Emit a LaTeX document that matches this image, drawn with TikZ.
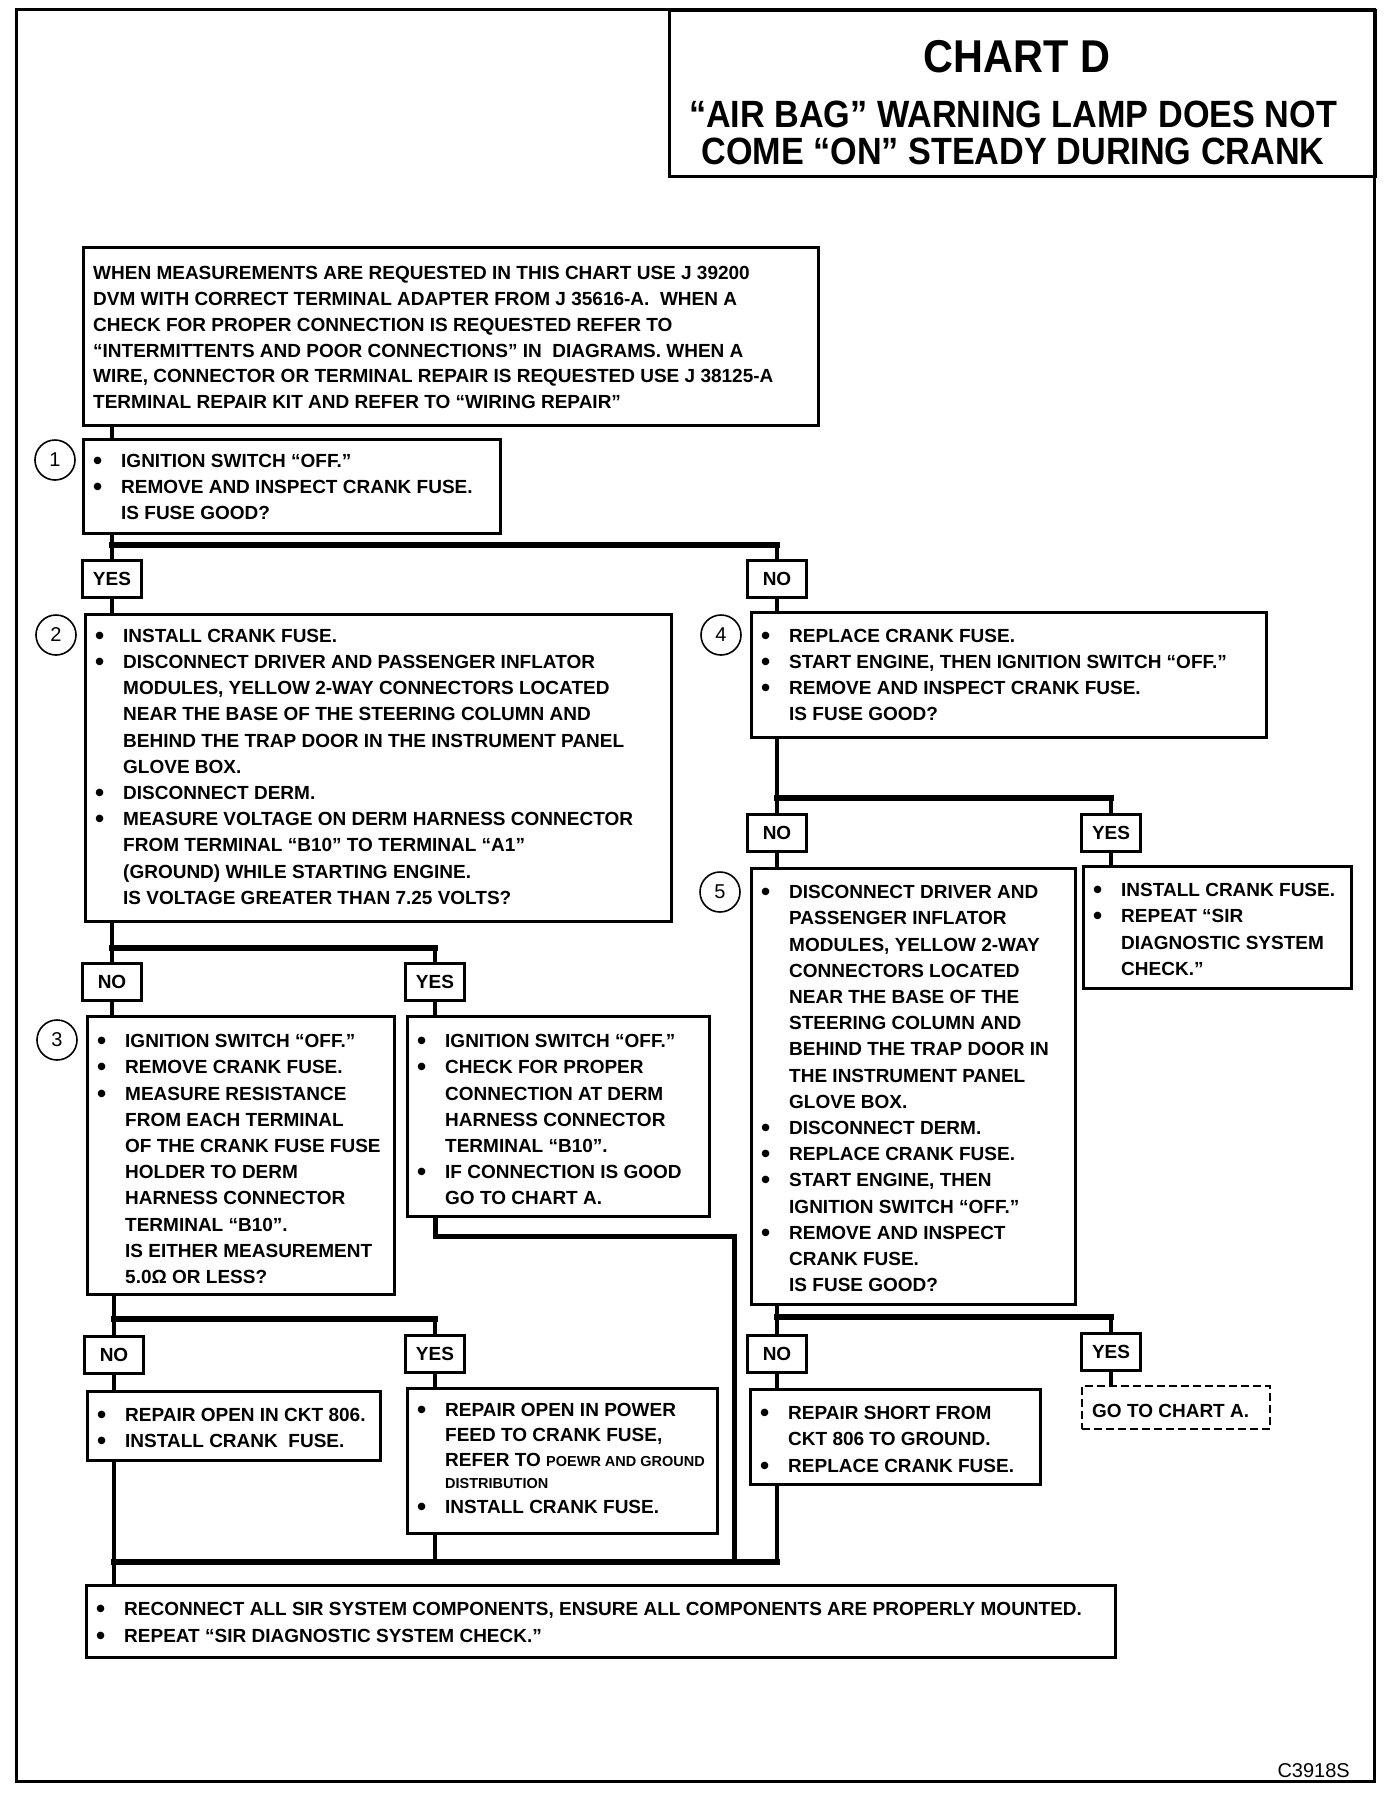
\documentclass[tikz,border=0pt]{standalone}
\usepackage{fontspec}
\newfontfamily\chartfont{Liberation Sans}
\newfontfamily\titlefont{Liberation Sans}[FakeStretch=0.9]
\newcommand{\blt}{\makebox[28pt][l]{\raisebox{-2pt}{\fontsize{26}{26}\selectfont •}}}
\newcommand{\hng}{\hspace*{28pt}}
\newcommand{\lnstrut}{\rule{0pt}{20pt}}
\newcommand{\smtxt}{\fontsize{14.5}{25}\selectfont}

\begin{document}
\begin{tikzpicture}[x=1pt, y=-1pt,
    box/.style={draw, line width=2.5pt, anchor=north west, inner sep=0pt},
    txt/.style={anchor=north west, inner sep=0pt, align=left, font=\chartfont\bfseries\fontsize{19}{26.2}\selectfont},
    lab/.style={draw, line width=2.5pt, fill=white, minimum width=59pt, minimum height=37pt, inner sep=0pt, font=\chartfont\bfseries\fontsize{19}{22}\selectfont},
    num/.style={draw, circle, line width=1.6pt, minimum size=40pt, inner sep=0pt, font=\chartfont\fontsize{20}{22}\selectfont},
    vline/.style={line width=4pt},
    hline/.style={line width=6pt, line cap=rect}]

    \useasboundingbox (0,0) rectangle (1392,1802);
    \draw [line width=3pt] (16,9) rectangle (1374,1781);

    % title
    \node [box, minimum width=706pt, minimum height=166pt] (ttl) at (668,9) {};
    \node [font=\titlefont\bfseries\fontsize{46}{50}\selectfont] (chart) at (1017,57) {CHART D};
    \node [align=center, inner sep=0pt, font=\titlefont\bfseries\fontsize{38}{37}\selectfont] (head) at (1013,133)
        {“AIR BAG” WARNING LAMP DOES NOT\\COME “ON” STEADY DURING CRANK};

    \node [box, minimum width=735pt, minimum height=178pt] (b0) at (82,246) {};
    \node [txt, font=\chartfont\bfseries\fontsize{19}{25.8}\selectfont] (t0) at (93,259.5)
        {\lnstrut WHEN MEASUREMENTS ARE REQUESTED IN THIS CHART USE J 39200\\
         DVM WITH CORRECT TERMINAL ADAPTER FROM J 35616-A.\ \ WHEN A\\
         CHECK FOR PROPER CONNECTION IS REQUESTED REFER TO\\
         “INTERMITTENTS AND POOR CONNECTIONS” IN \ DIAGRAMS. WHEN A\\
         WIRE, CONNECTOR OR TERMINAL REPAIR IS REQUESTED USE J 38125-A\\
         TERMINAL REPAIR KIT AND REFER TO “WIRING REPAIR”};

    \node [box, minimum width=417pt, minimum height=94pt] (b1) at (82,438) {};
    \node [num] (n1) at (55,460) {1};
    \node [txt] (t1) at (93,447)
        {\lnstrut\blt IGNITION SWITCH “OFF.”\\
         \blt REMOVE AND INSPECT CRANK FUSE.\\
         \hng IS FUSE GOOD?};

    \node [lab] (yes1) at (112,579) {YES};
    \node [lab] (no1) at (777,579) {NO};

    \node [box, minimum width=586pt, minimum height=307pt] (b2) at (84,613) {};
    \node [num] (n2) at (56,635) {2};
    \node [txt] (t2) at (95,622)
        {\lnstrut\blt INSTALL CRANK FUSE.\\
         \blt DISCONNECT DRIVER AND PASSENGER INFLATOR\\
         \hng MODULES, YELLOW 2-WAY CONNECTORS LOCATED\\
         \hng NEAR THE BASE OF THE STEERING COLUMN AND\\
         \hng BEHIND THE TRAP DOOR IN THE INSTRUMENT PANEL\\
         \hng GLOVE BOX.\\
         \blt DISCONNECT DERM.\\
         \blt MEASURE VOLTAGE ON DERM HARNESS CONNECTOR\\
         \hng FROM TERMINAL “B10” TO TERMINAL “A1”\\
         \hng (GROUND) WHILE STARTING ENGINE.\\
         \hng IS VOLTAGE GREATER THAN 7.25 VOLTS?};

    \node [box, minimum width=515pt, minimum height=125pt] (b4) at (750,611) {};
    \node [num] (n4) at (721,635) {4};
    \node [txt] (t4) at (761,622)
        {\lnstrut\blt REPLACE CRANK FUSE.\\
         \blt START ENGINE, THEN IGNITION SWITCH “OFF.”\\
         \blt REMOVE AND INSPECT CRANK FUSE.\\
         \hng IS FUSE GOOD?};

    \node [lab] (no4) at (777,833) {NO};
    \node [lab] (yes4) at (1111,833) {YES};

    \node [box, minimum width=324pt, minimum height=436pt] (b5) at (750,867) {};
    \node [num] (n5) at (720,892) {5};
    \node [txt] (t5) at (761,878.5)
        {\lnstrut\blt DISCONNECT DRIVER AND\\
         \hng PASSENGER INFLATOR\\
         \hng MODULES, YELLOW 2-WAY\\
         \hng CONNECTORS LOCATED\\
         \hng NEAR THE BASE OF THE\\
         \hng STEERING COLUMN AND\\
         \hng BEHIND THE TRAP DOOR IN\\
         \hng THE INSTRUMENT PANEL\\
         \hng GLOVE BOX.\\
         \blt DISCONNECT DERM.\\
         \blt REPLACE CRANK FUSE.\\
         \blt START ENGINE, THEN\\
         \hng IGNITION SWITCH “OFF.”\\
         \blt REMOVE AND INSPECT\\
         \hng CRANK FUSE.\\
         \hng IS FUSE GOOD?};

    \node [box, minimum width=268pt, minimum height=122pt] (b4y) at (1082,865) {};
    \node [txt] (t4y) at (1093,876.5)
        {\lnstrut\blt INSTALL CRANK FUSE.\\
         \blt REPEAT “SIR\\
         \hng DIAGNOSTIC SYSTEM\\
         \hng CHECK.”};

    \node [lab] (no2) at (112,982) {NO};
    \node [lab] (yes2) at (435,982) {YES};

    \node [box, minimum width=307pt, minimum height=278pt] (b3) at (86,1015) {};
    \node [num] (n3) at (57,1040) {3};
    \node [txt] (t3) at (97,1027.5)
        {\lnstrut\blt IGNITION SWITCH “OFF.”\\
         \blt REMOVE CRANK FUSE.\\
         \blt MEASURE RESISTANCE\\
         \hng FROM EACH TERMINAL\\
         \hng OF THE CRANK FUSE FUSE\\
         \hng HOLDER TO DERM\\
         \hng HARNESS CONNECTOR\\
         \hng TERMINAL “B10”.\\
         \hng IS EITHER MEASUREMENT\\
         \hng 5.0Ω OR LESS?};

    \node [box, minimum width=302pt, minimum height=200pt] (b3y) at (406,1015) {};
    \node [txt] (t3y) at (417,1027.5)
        {\lnstrut\blt IGNITION SWITCH “OFF.”\\
         \blt CHECK FOR PROPER\\
         \hng CONNECTION AT DERM\\
         \hng HARNESS CONNECTOR\\
         \hng TERMINAL “B10”.\\
         \blt IF CONNECTION IS GOOD\\
         \hng GO TO CHART A.};

    \node [lab] (no3) at (114,1355) {NO};
    \node [lab] (yes3) at (435,1354) {YES};
    \node [lab] (no5) at (777,1354) {NO};
    \node [lab] (yes5) at (1111,1352) {YES};

    \node [box, minimum width=293pt, minimum height=69pt] (r1) at (86,1390) {};
    \node [txt] (t6) at (97,1401.5)
        {\lnstrut\blt REPAIR OPEN IN CKT 806.\\
         \blt INSTALL CRANK \ FUSE.};

    \node [box, minimum width=310pt, minimum height=145pt] (r2) at (406,1387) {};
    \node [txt, font=\chartfont\bfseries\fontsize{19}{25}\selectfont] (t7) at (417,1396)
        {\lnstrut\blt REPAIR OPEN IN POWER\\
         \hng FEED TO CRANK FUSE,\\
         \hng REFER TO {\smtxt POEWR AND GROUND}\\[-3pt]
         \hng {\smtxt DISTRIBUTION}\\
         \blt INSTALL CRANK FUSE.};

    \node [box, minimum width=290pt, minimum height=95pt] (r3) at (749,1388) {};
    \node [txt] (t8) at (760,1399.5)
        {\lnstrut\blt REPAIR SHORT FROM\\
         \hng CKT 806 TO GROUND.\\
         \blt REPLACE CRANK FUSE.};

    \node [box, line width=2pt, dash pattern=on 8pt off 4pt, minimum width=188pt, minimum height=43pt] (r4) at (1081,1385) {};
    \node [txt] (t9) at (1092,1397) {\lnstrut GO TO CHART A.};

    \node [box, minimum width=1029pt, minimum height=72pt] (fin) at (85,1584) {};
    \node [txt, font=\chartfont\bfseries\fontsize{19}{27}\selectfont] (t10) at (96,1595)
        {\lnstrut\blt RECONNECT ALL SIR SYSTEM COMPONENTS, ENSURE ALL COMPONENTS ARE PROPERLY MOUNTED.\\
         \blt REPEAT “SIR DIAGNOSTIC SYSTEM CHECK.”};

    \node [anchor=base east, inner sep=0pt, font=\chartfont\fontsize{20}{22}\selectfont] (code) at (1350,1777) {C3918S};

    \coordinate (j1) at (0,545);
    \coordinate (j4) at (0,798);
    \coordinate (j2) at (0,948);
    \coordinate (j6) at (734,1236);
    \coordinate (j3) at (0,1319);
    \coordinate (j5) at (0,1317);
    \coordinate (j7) at (0,1562);

    \draw [vline] (b0.south -| yes1) -- (b1.north -| yes1);
    \draw [vline] (b1.south -| yes1) -- (yes1);
    \draw [vline] (yes1) -- (yes1 |- b2.north);
    \draw [hline] (yes1 |- j1) -- (no1 |- j1);
    \draw [vline] (no1 |- j1) -- (no1);
    \draw [vline] (no1) -- (no1 |- b4.north);

    \draw [vline] (b4.south -| no4) -- (no4);
    \draw [hline] (no4 |- j4) -- (yes4 |- j4);
    \draw [vline] (yes4 |- j4) -- (yes4);
    \draw [vline] (no4) -- (no4 |- b5.north);
    \draw [vline] (yes4) -- (yes4 |- b4y.north);

    \draw [vline] (b2.south -| no2) -- (no2);
    \draw [hline] (no2 |- j2) -- (yes2 |- j2);
    \draw [vline] (yes2 |- j2) -- (yes2);
    \draw [vline] (no2) -- (no2 |- b3.north);
    \draw [vline] (yes2) -- (yes2 |- b3y.north);

    \draw [line width=5pt] (b3y.south -| yes2) |- (j6) -- (j6 |- j7);

    \draw [vline] (b3.south -| no3) -- (no3);
    \draw [hline] (no3 |- j3) -- (yes3 |- j3);
    \draw [vline] (yes3 |- j3) -- (yes3);
    \draw [vline] (no3) -- (no3 |- r1.north);
    \draw [vline] (yes3) -- (yes3 |- r2.north);

    \draw [vline] (b5.south -| no5) -- (no5);
    \draw [hline] (no5 |- j5) -- (yes5 |- j5);
    \draw [vline] (yes5 |- j5) -- (yes5);
    \draw [vline] (no5) -- (no5 |- r3.north);
    \draw [vline] (yes5) -- (yes5 |- r4.north);

    \draw [vline] (r1.south -| no3) -- (no3 |- fin.north);
    \draw [vline] (r2.south -| yes3) -- (yes3 |- j7);
    \draw [vline] (r3.south -| no5) -- (no5 |- j7);
    \draw [hline] (no3 |- j7) -- (no5 |- j7);
\end{tikzpicture}
\end{document}
